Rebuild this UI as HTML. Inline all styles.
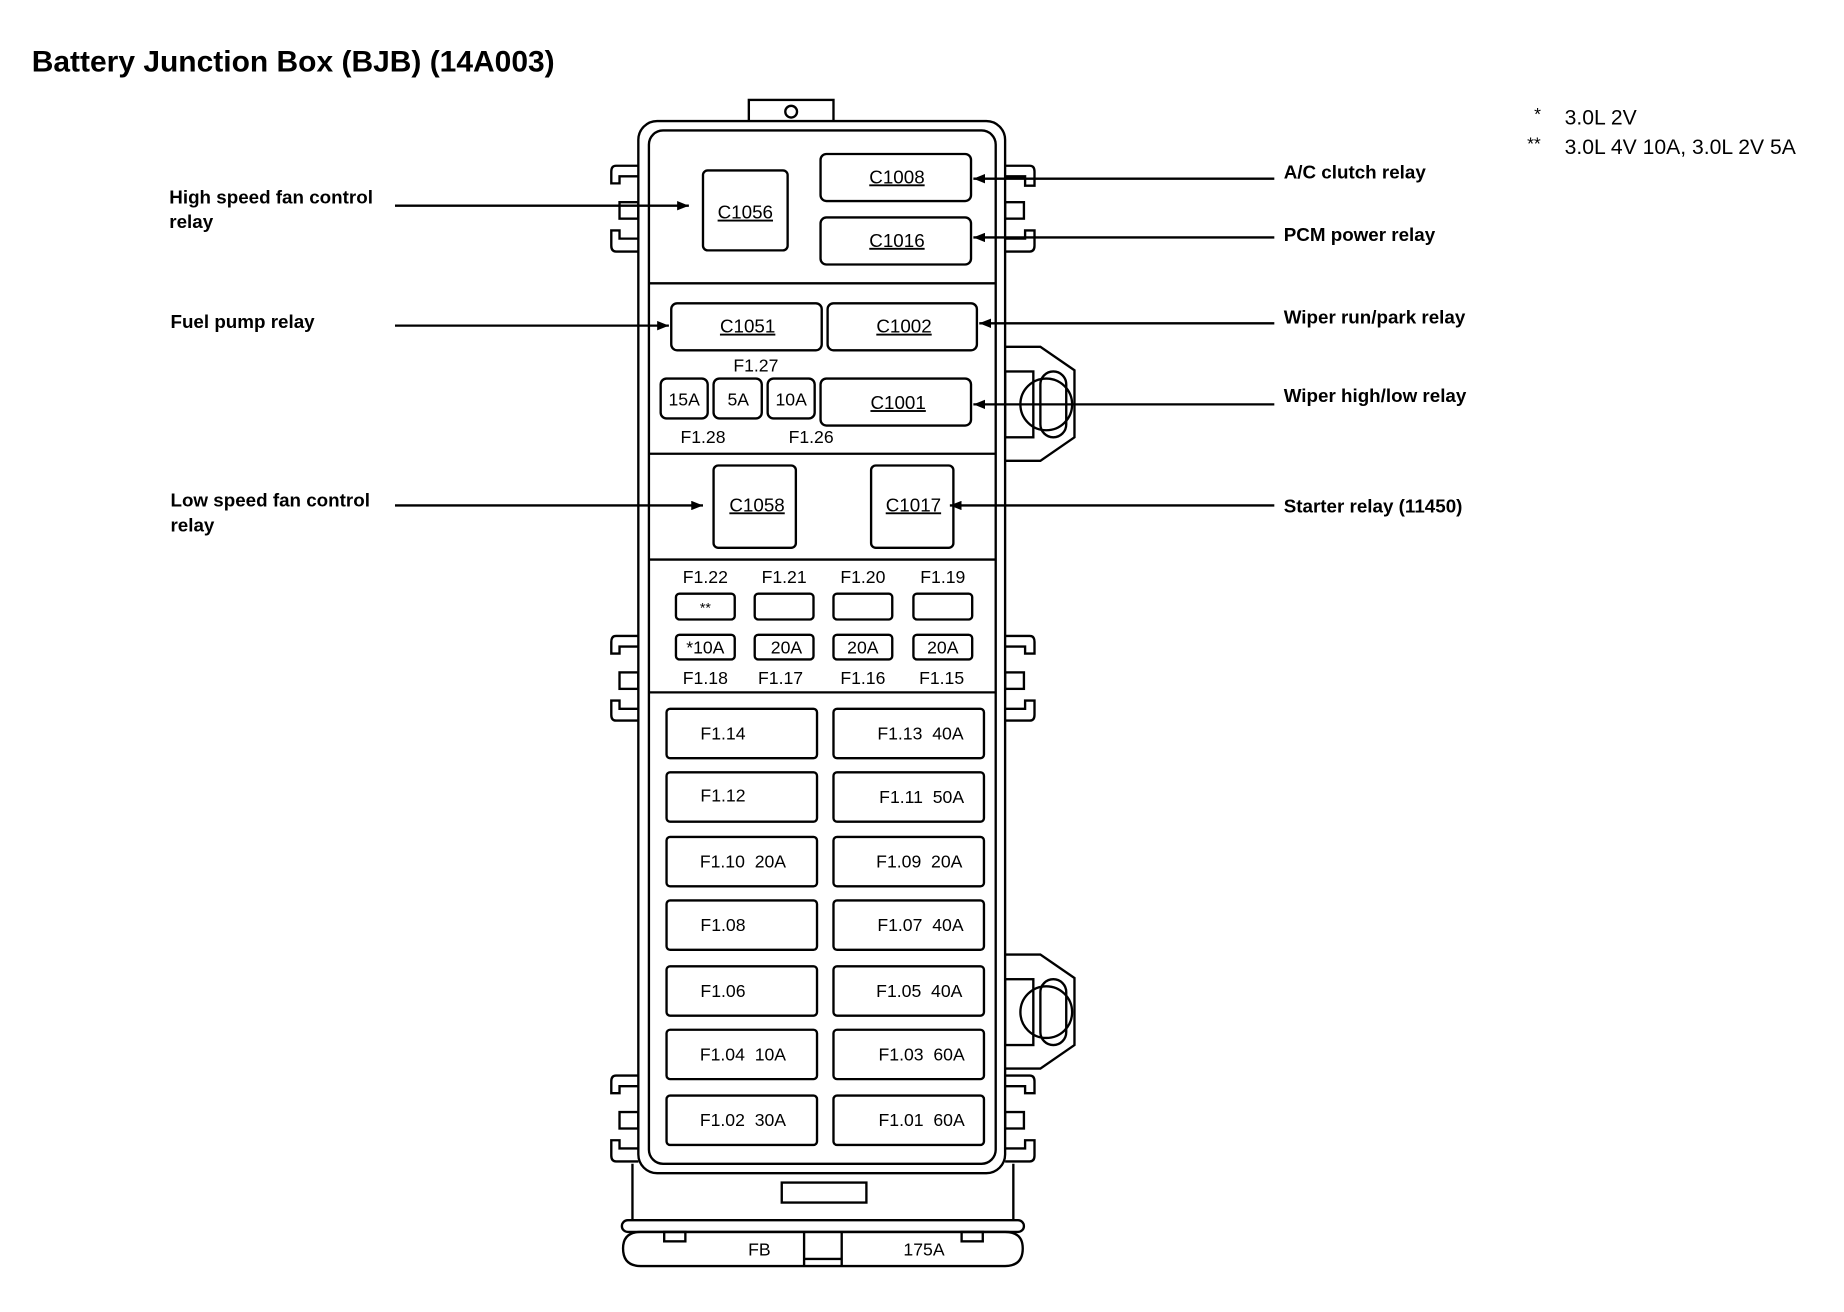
<!DOCTYPE html>
<html><head><meta charset="utf-8"><style>
html,body{margin:0;padding:0;background:#fff;}
svg{display:block;}
text{font-family:"Liberation Sans",Arial,sans-serif;fill:#000;}
.b{font-weight:bold;font-size:16px;}
.c{font-size:16px;text-anchor:middle;}
.f{font-size:15px;text-anchor:middle;}
</style></head><body>
<svg width="1844" height="1312" viewBox="0 0 1568.6 1116.1" preserveAspectRatio="none" xmlns="http://www.w3.org/2000/svg">
<defs><marker id="a" markerWidth="10" markerHeight="8" refX="10" refY="4" orient="auto" markerUnits="userSpaceOnUse"><path d="M0,0 L10,4 L0,8 z" fill="#000"/></marker></defs>
<text x="27" y="61" style="font-weight:bold;font-size:25.5px">Battery Junction Box (BJB) (14A003)</text>
<text x="1305" y="102" style="font-size:15px">*</text><text x="1331" y="106" style="font-size:18px">3.0L 2V</text>
<text x="1299" y="127" style="font-size:15px">**</text><text x="1331" y="131" style="font-size:18px">3.0L 4V 10A, 3.0L 2V 5A</text>
<g fill="none" stroke="#000" stroke-width="2">
<rect x="637" y="85" width="72" height="19" fill="#fff"/>
<circle cx="673" cy="95" r="5"/>
<path d="M543,141 H524 Q520,141 520,146 V156 H527 V150 H543"/>
<rect x="527" y="172" width="16" height="14"/>
<path d="M543,214 H524 Q520,214 520,209 V196 H527 V203 H543"/>
<path d="M543,541 H524 Q520,541 520,546 V556 H527 V550 H543"/>
<rect x="527" y="572" width="16" height="14"/>
<path d="M543,613 H524 Q520,613 520,608 V596 H527 V603 H543"/>
<path d="M543,915 H524 Q520,915 520,920 V930 H527 V924 H543"/>
<rect x="527" y="946" width="16" height="14"/>
<path d="M543,988 H524 Q520,988 520,983 V970 H527 V977 H543"/>
<path d="M855,141 H876 Q880,141 880,146 V158 H872 V150 H855"/>
<rect x="855" y="172" width="16" height="14"/>
<path d="M855,214 H876 Q880,214 880,209 V196 H872 V203 H855"/>
<path d="M855,541 H876 Q880,541 880,546 V556 H872 V550 H855"/>
<rect x="855" y="572" width="16" height="14"/>
<path d="M855,613 H876 Q880,613 880,608 V596 H872 V603 H855"/>
<path d="M855,915 H876 Q880,915 880,920 V930 H872 V924 H855"/>
<rect x="855" y="946" width="16" height="14"/>
<path d="M855,988 H876 Q880,988 880,983 V970 H872 V977 H855"/>
<path d="M855,295 H885 L914,315 V372 L885,392 H855"/>
<rect x="855" y="316" width="24" height="56"/>
<circle cx="890" cy="344" r="22"/><rect x="885" y="316" width="22" height="56" rx="11"/>
<path d="M855,812 H885 L914,832 V889 L885,909 H855"/>
<rect x="855" y="833" width="24" height="56"/>
<circle cx="890" cy="861" r="22"/><rect x="885" y="833" width="22" height="56" rx="11"/>
<path d="M538,990 V1038 M862,990 V1038"/>
<rect x="665" y="1006" width="72" height="17"/>
<rect x="529" y="1038" width="342" height="10" rx="5"/>
<path d="M545,1048 H855 Q870,1048 870,1062 Q870,1077 855,1077 H545 Q530,1077 530,1062 Q530,1048 545,1048 Z"/>
<path d="M684,1048 V1077 M716,1048 V1077 M684,1071 H716"/>
<rect x="565" y="1048" width="18" height="8"/><rect x="818" y="1048" width="18" height="8"/>
<rect x="543" y="103" width="312" height="895" rx="16" fill="#fff"/>
<rect x="552" y="111" width="295" height="879" rx="12"/>
<path d="M552,241 H847 M552,386 H847 M552,476 H847 M552,589 H847"/>
<rect x="598" y="145" width="72" height="68" rx="4"/>
<rect x="698" y="131" width="128" height="40" rx="5"/>
<rect x="698" y="185" width="128" height="40" rx="5"/>
<rect x="571" y="258" width="128" height="40" rx="5"/>
<rect x="704" y="258" width="127" height="40" rx="5"/>
<rect x="562" y="322" width="40" height="34" rx="5"/>
<rect x="607" y="322" width="41" height="34" rx="5"/>
<rect x="653" y="322" width="40" height="34" rx="5"/>
<rect x="698" y="322" width="128" height="40" rx="5"/>
<rect x="607" y="396" width="70" height="70" rx="4"/>
<rect x="741" y="396" width="70" height="70" rx="4"/>
<rect x="575" y="505" width="50" height="22" rx="3"/><rect x="642" y="505" width="50" height="22" rx="3"/>
<rect x="709" y="505" width="50" height="22" rx="3"/><rect x="777" y="505" width="50" height="22" rx="3"/>
<rect x="575" y="540" width="50" height="21" rx="3"/><rect x="642" y="540" width="50" height="21" rx="3"/>
<rect x="709" y="540" width="50" height="21" rx="3"/><rect x="777" y="540" width="50" height="21" rx="3"/>
<rect x="567" y="603" width="128" height="42" rx="3"/><rect x="709" y="603" width="128" height="42" rx="3"/>
<rect x="567" y="657" width="128" height="42" rx="3"/><rect x="709" y="657" width="128" height="42" rx="3"/>
<rect x="567" y="712" width="128" height="42" rx="3"/><rect x="709" y="712" width="128" height="42" rx="3"/>
<rect x="567" y="766" width="128" height="42" rx="3"/><rect x="709" y="766" width="128" height="42" rx="3"/>
<rect x="567" y="822" width="128" height="42" rx="3"/><rect x="709" y="822" width="128" height="42" rx="3"/>
<rect x="567" y="876" width="128" height="42" rx="3"/><rect x="709" y="876" width="128" height="42" rx="3"/>
<rect x="567" y="932" width="128" height="42" rx="3"/><rect x="709" y="932" width="128" height="42" rx="3"/>
</g>
<g stroke="#000" stroke-width="2" fill="none" marker-end="url(#a)">
<path d="M336,175 H586"/><path d="M336,277 H569"/><path d="M336,430 H598"/>
<path d="M1084,152 H828"/><path d="M1084,202 H828"/><path d="M1084,275 H833"/><path d="M1084,344 H828"/><path d="M1084,430 H808"/>
</g>
<text class="b" x="144" y="173">High speed fan control</text><text class="b" x="144" y="194">relay</text>
<text class="b" x="145" y="279">Fuel pump relay</text>
<text class="b" x="145" y="431">Low speed fan control</text><text class="b" x="145" y="452">relay</text>
<text class="b" x="1092" y="152">A/C clutch relay</text>
<text class="b" x="1092" y="205">PCM power relay</text>
<text class="b" x="1092" y="275">Wiper run/park relay</text>
<text class="b" x="1092" y="342">Wiper high/low relay</text>
<text class="b" x="1092" y="436">Starter relay (11450)</text>
<text class="c" x="634" y="186" text-decoration="underline">C1056</text>
<text class="c" x="763" y="156" text-decoration="underline">C1008</text><text class="c" x="763" y="210" text-decoration="underline">C1016</text>
<text class="c" x="636" y="283" text-decoration="underline">C1051</text><text class="c" x="769" y="283" text-decoration="underline">C1002</text>
<text class="c" x="764" y="348" text-decoration="underline">C1001</text>
<text class="c" x="644" y="435" text-decoration="underline">C1058</text><text class="c" x="777" y="435" text-decoration="underline">C1017</text>
<text class="f" x="643" y="316">F1.27</text>
<text class="f" x="582" y="345">15A</text><text class="f" x="628" y="345">5A</text><text class="f" x="673" y="345">10A</text>
<text class="f" x="598" y="377">F1.28</text><text class="f" x="690" y="377">F1.26</text>
<text class="f" x="600" y="496">F1.22</text><text class="f" x="667" y="496">F1.21</text><text class="f" x="734" y="496">F1.20</text><text class="f" x="802" y="496">F1.19</text>
<text class="f" x="600" y="521" style="font-size:12px">**</text>
<text class="f" x="600" y="556">*10A</text><text class="f" x="669" y="556">20A</text><text class="f" x="734" y="556">20A</text><text class="f" x="802" y="556">20A</text>
<text class="f" x="600" y="582">F1.18</text><text class="f" x="664" y="582">F1.17</text><text class="f" x="734" y="582">F1.16</text><text class="f" x="801" y="582">F1.15</text>
<text class="f" x="615" y="629">F1.14</text><text class="f" x="783" y="629">F1.13&#160;&#160;40A</text>
<text class="f" x="615" y="682">F1.12</text><text class="f" x="784" y="683">F1.11&#160;&#160;50A</text>
<text class="f" x="632" y="738">F1.10&#160;&#160;20A</text><text class="f" x="782" y="738">F1.09&#160;&#160;20A</text>
<text class="f" x="615" y="792">F1.08</text><text class="f" x="783" y="792">F1.07&#160;&#160;40A</text>
<text class="f" x="615" y="848">F1.06</text><text class="f" x="782" y="848">F1.05&#160;&#160;40A</text>
<text class="f" x="632" y="902">F1.04&#160;&#160;10A</text><text class="f" x="784" y="902">F1.03&#160;&#160;60A</text>
<text class="f" x="632" y="958">F1.02&#160;&#160;30A</text><text class="f" x="784" y="958">F1.01&#160;&#160;60A</text>
<text class="f" x="646" y="1068">FB</text><text class="f" x="786" y="1068">175A</text>
</svg>
</body></html>
